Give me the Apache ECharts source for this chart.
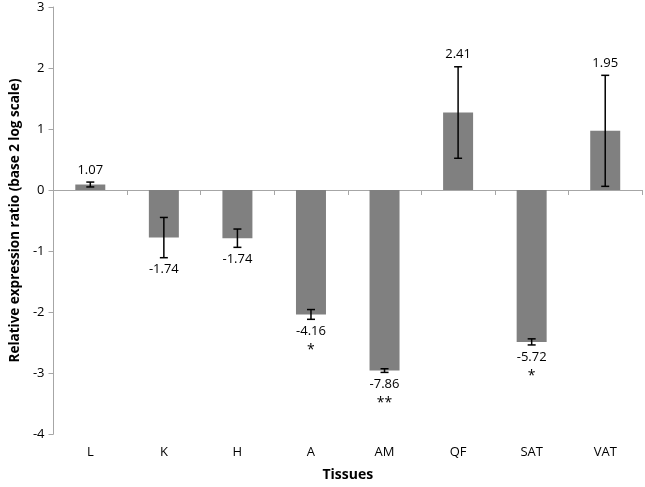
<!DOCTYPE html>
<html>
<head>
<meta charset="utf-8">
<script src="https://cdn.jsdelivr.net/npm/echarts@6/dist/echarts.min.js"></script>
<style>html,body{margin:0;padding:0;background:#fff;}#c{width:645px;height:487px;}</style>
</head>
<body>
<div id="c"></div>
<script>
const categories = ['L','K','H','A','AM','QF','SAT','VAT'];
const values = [0.09, -0.78, -0.79, -2.04, -2.96, 1.27, -2.49, 0.97];
const errors = [0.04, 0.33, 0.15, 0.08, 0.03, 0.75, 0.05, 0.91];
const ratioLabels = ['1.07','-1.74','-1.74','-4.16','-7.86','2.41','-5.72','1.95'];
const significance = ['','','','*','**','','*',''];
const yMin = -4, yMax = 3, yInterval = 1;

const FONT = '"Open Sans", "Liberation Sans", sans-serif';
const chart = echarts.init(document.getElementById('c'));
chart.setOption({
  animation: false,
  backgroundColor: '#fff',
  grid: {left: 51, right: 3, top: 7, bottom: 44},
  xAxis: [{
    type: 'category', data: categories,
    axisLine: {onZero: true, lineStyle: {color: '#a6a6a6', width: 1}},
    axisTick: {show: true, length: 5, lineStyle: {color: '#a6a6a6'}},
    axisLabel: {show: false}
  }, {
    type: 'category', data: categories, position: 'bottom',
    axisLine: {show: false, onZero: false}, axisTick: {show: false},
    axisLabel: {color: '#000', fontFamily: FONT, fontSize: 13, margin: 12},
    name: 'Tissues', nameLocation: 'middle', nameGap: 34,
    nameTextStyle: {color: '#000', fontFamily: FONT, fontSize: 14, fontWeight: 'bold'}
  }],
  yAxis: {
    type: 'value', min: yMin, max: yMax, interval: yInterval,
    splitLine: {show: false},
    axisLine: {show: true, lineStyle: {color: '#a6a6a6'}},
    axisTick: {show: true, length: 5, lineStyle: {color: '#a6a6a6'}},
    axisLabel: {color: '#000', fontFamily: FONT, fontSize: 13, margin: 9},
    name: 'Relative expression ratio (base 2 log scale)',
    nameLocation: 'middle', nameGap: 28,
    nameTextStyle: {color: '#000', fontFamily: FONT, fontSize: 13.5, fontWeight: 'bold'}
  },
  series: [{
    type: 'bar', data: values, barWidth: 30, xAxisIndex: 0, z: 2,
    itemStyle: {color: '#808080'}
  }, {
    type: 'custom', xAxisIndex: 0, z: 10,
    data: categories.map((c, i) => [i, values[i], errors[i]]),
    renderItem: function (params, api) {
      const i = params.dataIndex;
      const x = api.value(0), v = api.value(1), e = api.value(2);
      const top = api.coord([x, v + e]);
      const bot = api.coord([x, v - e]);
      const h = 4;
      const ls = {stroke: '#000', lineWidth: 1.5};
      const children = [
        {type: 'line', shape: {x1: top[0], y1: top[1], x2: bot[0], y2: bot[1]}, style: ls},
        {type: 'line', shape: {x1: top[0] - h, y1: top[1], x2: top[0] + h, y2: top[1]}, style: ls},
        {type: 'line', shape: {x1: bot[0] - h, y1: bot[1], x2: bot[0] + h, y2: bot[1]}, style: ls}
      ];
      const ly = v >= 0 ? top[1] - 12 : bot[1] + 12;
      children.push({type: 'text', style: {text: ratioLabels[i], x: top[0], y: ly, align: 'center', verticalAlign: 'middle', fill: '#000', font: '13px ' + FONT}});
      if (significance[i]) {
        children.push({type: 'text', style: {text: significance[i], x: top[0], y: ly + 19, align: 'center', verticalAlign: 'middle', fill: '#000', font: '14px ' + FONT}});
      }
      return {type: 'group', children: children};
    }
  }]
});
</script>
</body>
</html>
